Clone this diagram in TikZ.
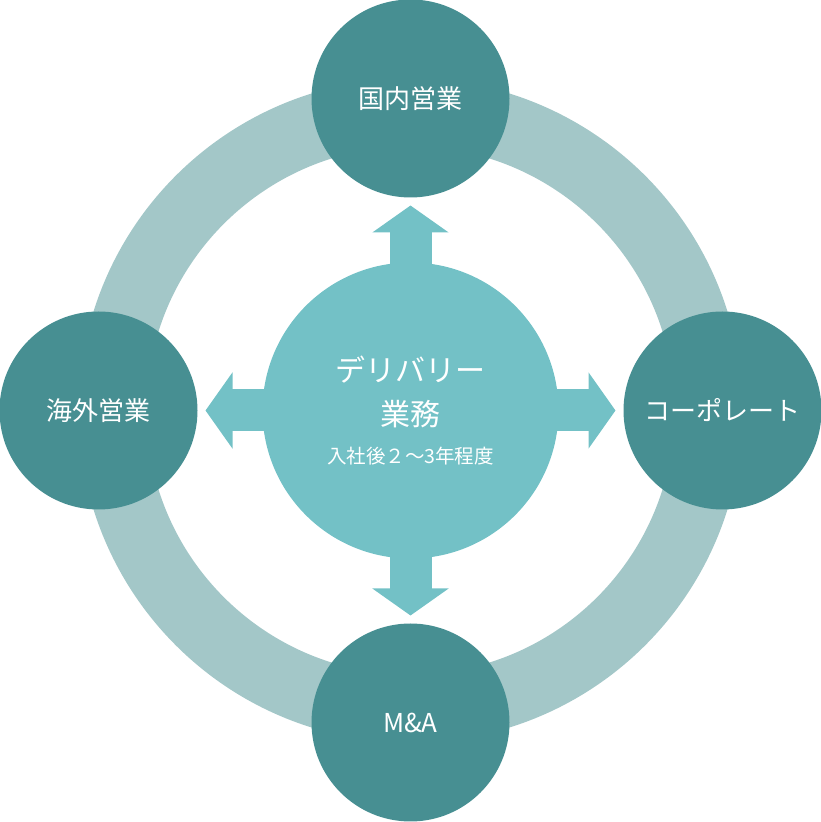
\documentclass[tikz,border=0pt]{standalone}
\usepackage{fontspec}
\setmainfont{Noto Sans CJK JP}
\usetikzlibrary{positioning, arrows.meta, backgrounds}
\definecolor{ringgray}{RGB}{163,199,200}
\definecolor{darkteal}{RGB}{71,143,146}
\definecolor{lightteal}{RGB}{115,193,198}
\tikzset{x=1pt, y=1pt, node distance=312pt,
  dept/.style={circle, fill=darkteal, text=white, minimum size=198pt, inner sep=0pt, font=\fontsize{26}{30}\selectfont},
  core/.style={circle, fill=lightteal, text=white, minimum size=296pt, inner sep=0pt, align=center},
  flow/.style={draw=lightteal, line width=42pt, -{Triangle[length=27pt, width=75pt]}},
  ring/.style={draw=ringgray, line width=68pt}}

\begin{document}
\begin{tikzpicture}
\useasboundingbox (0,0) rectangle (821,822);
\node[core] (del) at (410.5,411.5) {\fontsize{30}{36}\selectfont デリバリー\\[16pt] \fontsize{30}{36}\selectfont 業務\\[18pt] \fontsize{19.5}{24}\selectfont 入社後２～3年程度};
\node[dept, above of=del] (dom) {国内営業};
\node[dept, right of=del] (corp) {コーポレート};
\node[dept, below of=del] (ma) {M\&A};
\node[dept, left of=del] (intl) {海外営業};

\begin{scope}[on background layer]
\draw[ring] (del.center) circle[radius=298];
\coordinate[above=205pt of del.center] (tdom);
\coordinate[right=205pt of del.center] (tcorp);
\coordinate[below=205pt of del.center] (tma);
\coordinate[left=205pt of del.center] (tintl);
\draw[flow] (del.center) -- (tdom);
\draw[flow] (del.center) -- (tcorp);
\draw[flow] (del.center) -- (tma);
\draw[flow] (del.center) -- (tintl);
\end{scope}
\end{tikzpicture}
\end{document}
